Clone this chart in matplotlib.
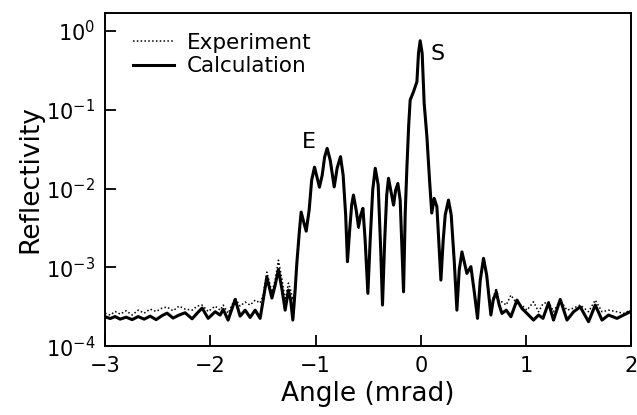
import numpy as np
import matplotlib
matplotlib.use("Agg")
import matplotlib.pyplot as plt

# angolo (mrad)
angle = [-3.000, -2.952, -2.905, -2.857, -2.800, -2.743, -2.686, -2.629, -2.572, -2.515,
         -2.458, -2.411, -2.354, -2.297, -2.240, -2.173, -2.125, -2.078, -2.021, -1.954,
         -1.907, -1.878, -1.831, -1.764, -1.717, -1.669, -1.622, -1.574, -1.527, -1.498,
         -1.463, -1.415, -1.384, -1.353, -1.318, -1.289, -1.258, -1.237, -1.216, -1.194,
         -1.178, -1.153, -1.137, -1.113, -1.089, -1.061, -1.037, -1.010, -0.985, -0.963,
         -0.937, -0.914, -0.890, -0.861, -0.823, -0.795, -0.763, -0.738, -0.714, -0.697,
         -0.676, -0.657, -0.640, -0.614, -0.592, -0.571, -0.550, -0.529, -0.503, -0.481,
         -0.457, -0.433, -0.405, -0.381, -0.364, -0.343, -0.324, -0.307, -0.286, -0.259,
         -0.239, -0.218, -0.196, -0.182, -0.164, -0.148, -0.132, -0.115, -0.101, -0.069,
         -0.037, -0.022, -0.006, 0.013, 0.032, 0.058, 0.083, 0.104, 0.127, 0.153,
         0.170, 0.191, 0.213, 0.232, 0.263, 0.289, 0.318, 0.343, 0.365, 0.391,
         0.413, 0.438, 0.476, 0.508, 0.539, 0.565, 0.596, 0.626, 0.666, 0.688,
         0.717, 0.745, 0.771, 0.812, 0.856, 0.914, 0.961, 1.009, 1.071, 1.119,
         1.161, 1.214, 1.261, 1.325, 1.389, 1.452, 1.515, 1.594, 1.658, 1.722,
         1.784, 1.864, 1.927, 1.990]

# riflettivita calcolata
r_calc = [2.36e-4, 2.24e-4, 2.37e-4, 2.20e-4, 2.33e-4, 2.17e-4, 2.37e-4, 2.20e-4, 2.40e-4, 2.17e-4,
          2.44e-4, 2.62e-4, 2.27e-4, 2.48e-4, 2.65e-4, 2.22e-4, 2.62e-4, 3.04e-4, 2.25e-4, 2.73e-4,
          2.48e-4, 2.92e-4, 2.14e-4, 3.92e-4, 2.40e-4, 2.86e-4, 2.31e-4, 2.86e-4, 2.25e-4, 3.84e-4,
          7.52e-4, 4.07e-4, 5.95e-4, 9.42e-4, 5.14e-4, 2.86e-4, 5.14e-4, 3.84e-4, 2.14e-4, 5.14e-4,
          1.13e-3, 2.97e-3, 5.03e-3, 3.76e-3, 2.88e-3, 5.33e-3, 1.28e-2, 1.87e-2, 1.36e-2, 1.04e-2,
          1.48e-2, 2.51e-2, 3.24e-2, 2.30e-2, 1.05e-2, 1.82e-2, 2.54e-2, 1.48e-2, 4.61e-3, 1.18e-3,
          2.97e-3, 6.17e-3, 8.27e-3, 5.33e-3, 3.27e-3, 4.61e-3, 5.61e-3, 2.22e-3, 4.67e-4, 2.22e-3,
          9.57e-3, 1.81e-2, 1.11e-2, 1.66e-3, 3.32e-4, 2.22e-3, 8.27e-3, 1.35e-2, 9.57e-3, 6.17e-3,
          9.57e-3, 1.16e-2, 7.14e-3, 2.22e-3, 4.89e-4, 4.89e-3, 1.87e-2, 6.40e-2, 0.133, 0.170,
          0.227, 0.521, 0.753, 0.521, 0.121, 4.55e-2, 1.28e-2, 4.89e-3, 7.51e-3, 5.87e-3,
          2.22e-3, 6.89e-4, 2.22e-3, 4.61e-3, 7.14e-3, 4.61e-3, 1.18e-3, 2.86e-4, 9.23e-4, 1.57e-3,
          1.17e-3, 8.38e-4, 1.02e-3, 4.89e-4, 2.25e-4, 6.89e-4, 1.30e-3, 7.97e-4, 2.48e-4, 3.84e-4,
          4.89e-4, 3.32e-4, 2.60e-4, 2.86e-4, 2.36e-4, 3.84e-4, 3.01e-4, 2.60e-4, 2.14e-4, 2.48e-4,
          2.25e-4, 3.55e-4, 2.14e-4, 3.92e-4, 2.14e-4, 2.73e-4, 3.15e-4, 2.04e-4, 3.32e-4, 2.14e-4,
          2.48e-4, 2.25e-4, 2.48e-4, 2.73e-4]

# riflettivita sperimentale (puntinata)
r_exp = [2.62e-4, 2.48e-4, 2.75e-4, 2.55e-4, 2.81e-4, 2.48e-4, 2.86e-4, 2.62e-4, 2.95e-4, 2.75e-4,
         3.04e-4, 3.13e-4, 2.81e-4, 3.22e-4, 2.95e-4, 2.86e-4, 3.22e-4, 3.32e-4, 2.75e-4, 3.22e-4,
         2.86e-4, 3.32e-4, 2.62e-4, 4.07e-4, 3.22e-4, 3.62e-4, 3.32e-4, 3.84e-4, 3.52e-4, 4.44e-4,
         8.70e-4, 4.85e-4, 6.89e-4, 1.23e-3, 6.89e-4, 3.84e-4, 6.31e-4, 5.14e-4, 3.84e-4, 5.45e-4,
         1.13e-3, 2.97e-3, 5.03e-3, 3.76e-3, 2.88e-3, 5.33e-3, 1.28e-2, 1.87e-2, 1.36e-2, 1.04e-2,
         1.48e-2, 2.51e-2, 3.24e-2, 2.30e-2, 1.05e-2, 1.82e-2, 2.54e-2, 1.48e-2, 4.61e-3, 1.30e-3,
         2.97e-3, 6.17e-3, 8.27e-3, 4.89e-3, 3.01e-3, 4.61e-3, 5.61e-3, 2.22e-3, 5.45e-4, 2.22e-3,
         9.57e-3, 1.81e-2, 1.11e-2, 1.66e-3, 3.84e-4, 2.22e-3, 8.27e-3, 1.35e-2, 9.57e-3, 6.17e-3,
         9.57e-3, 1.16e-2, 7.14e-3, 2.22e-3, 5.45e-4, 4.89e-3, 1.87e-2, 6.40e-2, 0.133, 0.170,
         0.227, 0.521, 0.753, 0.521, 0.121, 4.55e-2, 1.28e-2, 5.33e-3, 7.51e-3, 5.87e-3,
         2.22e-3, 7.97e-4, 2.22e-3, 4.61e-3, 7.14e-3, 4.61e-3, 1.18e-3, 3.32e-4, 9.23e-4, 1.57e-3,
         1.17e-3, 8.70e-4, 1.02e-3, 5.14e-4, 2.62e-4, 6.89e-4, 1.30e-3, 7.97e-4, 2.86e-4, 4.07e-4,
         5.45e-4, 3.62e-4, 3.65e-4, 3.32e-4, 4.44e-4, 3.45e-4, 3.32e-4, 2.86e-4, 3.65e-4, 2.73e-4,
         3.45e-4, 3.65e-4, 2.73e-4, 3.84e-4, 2.86e-4, 3.04e-4, 3.32e-4, 2.73e-4, 3.84e-4, 2.73e-4,
         2.86e-4, 2.73e-4, 2.60e-4, 2.86e-4]

fig = plt.figure(figsize=(6.37, 4.15), dpi=100)
ax = fig.add_axes([0.165, 0.166, 0.826, 0.803])

ax.plot(angle, r_exp, 'k', linestyle=(0, (1, 1.5)), lw=1.1, label='Experiment')
ax.plot(angle, r_calc, 'k-', lw=2.2, solid_joinstyle='round', label='Calculation')

ax.set_yscale('log')
ax.set_xlim(-3, 2)
ax.set_ylim(1e-4, 1.7)
ax.set_xticks([-3, -2, -1, 0, 1, 2])
ax.set_yticks([1e-4, 1e-3, 1e-2, 1e-1, 1])
ax.minorticks_off()
ax.tick_params(direction='in', length=8, width=1.3, labelsize=15, pad=7)
for s in ax.spines.values():
    s.set_linewidth(1.4)

ax.set_xlabel('Angle (mrad)', fontsize=19, labelpad=4)
ax.set_ylabel('Reflectivity', fontsize=19, labelpad=2)

# etichette dei picchi
ax.text(-1.06, 0.039, 'E', fontsize=16, ha='center', va='center')
ax.text(0.156, 0.51, 'S', fontsize=16, ha='center', va='center')

ax.legend(loc='upper left', frameon=False, fontsize=15.5, handlelength=1.9,
          handletextpad=0.6, labelspacing=0.15, borderaxespad=0.3,
          bbox_to_anchor=(0.025, 0.985))

fig.savefig('out.png', dpi=100)
